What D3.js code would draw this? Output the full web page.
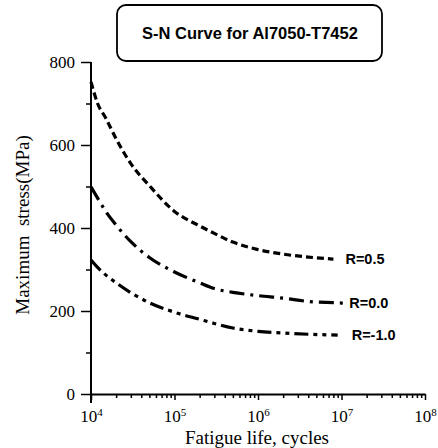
<!DOCTYPE html>
<html>
<head>
<meta charset="utf-8">
<script src="https://cdn.jsdelivr.net/npm/d3@7"></script>
<style>
  body { margin: 0; background: #fff; }
  svg { display: block; }
</style>
</head>
<body>
<div id="chart"></div>
<script>
// data
var cyclesR05 = [1e4, 1.2e4, 1.5e4, 2e4, 3e4, 5e4, 1e5, 2e5, 3e5, 5e5, 1e6, 2e6, 4e6, 8e6];
var stressR05 = [752, 700, 665, 615, 555, 502, 440, 405, 387, 366, 348, 337, 330, 325];

var cyclesR00 = [1e4, 1.2e4, 1.5e4, 2e4, 3e4, 5e4, 1e5, 2e5, 3e5, 5e5, 1e6, 2e6, 4e6, 8e6, 1.05e7];
var stressR00 = [499, 472, 440, 407, 367, 329, 294, 268, 254, 245, 237, 231, 223, 220, 219];

var cyclesRm1 = [1e4, 1.2e4, 1.5e4, 2e4, 3e4, 5e4, 1e5, 2e5, 3e5, 5e5, 1e6, 2e6, 4e6, 9e6];
var stressRm1 = [323, 305, 287, 268, 244, 220, 197, 180, 170, 159, 151, 147, 144, 142];

var seriesNames = ["R=0.5", "R=0.0", "R=-1.0"];
var yTicks = [0, 200, 400, 600, 800];
var yMinorTicks = [100, 300, 500, 700];
var xDecades = [1e4, 1e5, 1e6, 1e7, 1e8];

var W = 438, H = 448;
var svg = d3.select("#chart").append("svg").attr("width", W).attr("height", H);

var x = d3.scaleLog().domain([1e4, 1e8]).range([91, 425]);
var y = d3.scaleLinear().domain([0, 800]).range([394, 62]);

var serif = "'Liberation Serif', 'Times New Roman', serif";
var sans = "'Liberation Sans', Arial, sans-serif";

// title box
svg.append("rect").attr("x", 117).attr("y", 5).attr("width", 265).attr("height", 56)
  .attr("rx", 9).attr("fill", "none").attr("stroke", "#000").attr("stroke-width", 1.8);
svg.append("text").attr("x", 250).attr("y", 39).attr("text-anchor", "middle")
  .attr("font-family", sans).attr("font-weight", "bold").attr("font-size", "16.5px")
  .text("S-N Curve for Al7050-T7452");

// y axis
var gy = svg.append("g").attr("transform", "translate(91,0)")
  .call(d3.axisLeft(y).tickValues(yTicks).tickSize(10).tickSizeOuter(0).tickPadding(6));
gy.select(".domain").remove();
gy.selectAll(".tick line").attr("stroke-width", 1.5);
gy.selectAll(".tick text").attr("font-family", serif).attr("font-size", "17px").attr("fill", "#000");

var gy2 = svg.append("g").attr("transform", "translate(91,0)")
  .call(d3.axisLeft(y).tickValues(yMinorTicks).tickSize(5).tickFormat(""));
gy2.select(".domain").remove();
gy2.selectAll(".tick line").attr("stroke-width", 1.5);

svg.append("line").attr("x1", 91).attr("x2", 91).attr("y1", y(800)).attr("y2", 403)
  .attr("stroke", "#000").attr("stroke-width", 2);

// x axis
var xMinor = [];
xDecades.slice(0, -1).forEach(function(d) {
  for (var k = 2; k <= 9; k++) xMinor.push(d * k);
});

var gx2 = svg.append("g").attr("transform", "translate(0,394)")
  .call(d3.axisBottom(x).tickValues(xMinor).tickSize(4).tickFormat(""));
gx2.select(".domain").remove();
gx2.selectAll(".tick line").attr("stroke-width", 1.5);

var gx = svg.append("g").attr("transform", "translate(0,394)")
  .call(d3.axisBottom(x).tickValues(xDecades).tickSize(6).tickSizeOuter(0).tickPadding(10).tickFormat(""));
gx.select(".domain").attr("stroke-width", 2);
gx.selectAll(".tick line").attr("stroke-width", 1.5);
gx.selectAll(".tick text")
  .attr("font-family", serif).attr("font-size", "17px").attr("fill", "#000")
  .each(function(d) {
    var t = d3.select(this);
    t.append("tspan").text("10");
    t.append("tspan").attr("dy", "-0.55em").attr("font-size", "11px").text(Math.round(Math.log10(d)));
  });

// axis titles
svg.append("text").attr("x", 257).attr("y", 444).attr("text-anchor", "middle")
  .attr("font-family", serif).attr("font-size", "19px").text("Fatigue life, cycles");

svg.append("text").attr("transform", "translate(29,225) rotate(-90)").attr("text-anchor", "middle")
  .attr("font-family", serif).attr("font-size", "19px")
  .style("white-space", "pre")
  .text("Maximum  stress(MPa)");

// curves
var series = [
  { name: seriesNames[0], cycles: cyclesR05, stress: stressR05, dash: "7,4", dx: 12 },
  { name: seriesNames[1], cycles: cyclesR00, stress: stressR00, dash: "15,6,3,6", dx: 6 },
  { name: seriesNames[2], cycles: cyclesRm1, stress: stressRm1, dash: "14,5,4,5,4,5", dx: 14 }
];

var line = d3.line()
  .x(function(d) { return x(d[0]); })
  .y(function(d) { return y(d[1]); })
  .curve(d3.curveMonotoneX);

series.forEach(function(s) {
  var pts = d3.zip(s.cycles, s.stress);
  svg.append("path").datum(pts).attr("d", line)
    .attr("fill", "none").attr("stroke", "#000").attr("stroke-width", 3.2)
    .attr("stroke-dasharray", s.dash);
  var last = pts[pts.length - 1];
  svg.append("text").attr("x", x(last[0]) + s.dx).attr("y", y(last[1]) + 5)
    .attr("font-family", sans).attr("font-weight", "bold").attr("font-size", "14.5px")
    .text(s.name);
});
</script>
</body>
</html>
